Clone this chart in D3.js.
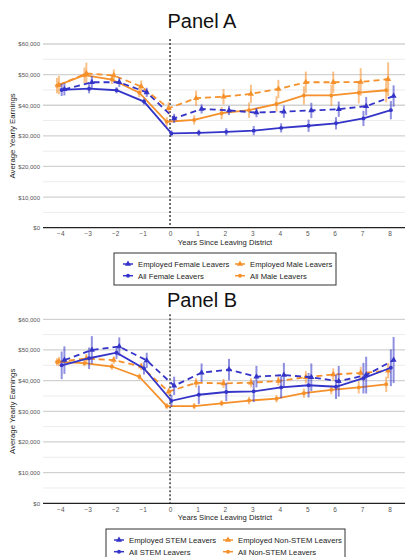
<!DOCTYPE html>
<html>
<head>
<meta charset="utf-8">
<style>
  body { margin: 0; background: #fff; }
  text { font-family: "Liberation Sans", Arial, sans-serif; }
</style>
</head>
<body>
<svg width="405" height="557"></svg>
<script src="https://cdn.jsdelivr.net/npm/d3@7"></script>
<script>
var years = [-4, -3, -2, -1, 0, 1, 2, 3, 4, 5, 6, 7, 8];
var yTicks = [0, 10000, 20000, 30000, 40000, 50000, 60000];

// Panel A values (thousands of dollars) and error bar half widths
var empFemaleA = [45.2, 47.5, 47.5, 44.2, 35.7, 38.8, 38.3, 37.6, 37.9, 38.3, 38.7, 39.7, 43.0];
var empFemaleAErr = [2, 2, 1.5, 1.5, 1.5, 1.5, 1.5, 1.5, 2, 2.5, 2.5, 3, 3.5];
var allFemaleA = [45.0, 45.4, 44.9, 41.2, 30.8, 31.0, 31.3, 31.7, 32.6, 33.3, 34.1, 35.7, 38.4];
var allFemaleAErr = [2, 1.5, 1, 1, 1, 1, 1.2, 1.5, 1.5, 2, 2, 2.5, 3];
var empMaleA = [46.6, 50.4, 49.7, 46.1, 39.0, 42.3, 42.8, 43.7, 45.3, 47.5, 47.5, 47.6, 48.5];
var empMaleAErr = [3, 3.5, 2, 2, 2, 2.5, 2.5, 3, 3, 3.5, 3.5, 4.5, 5.5];
var allMaleA = [46.4, 49.8, 48.4, 44.1, 34.6, 35.2, 37.4, 38.4, 40.4, 43.2, 43.2, 44.1, 44.9];
var allMaleAErr = [2.5, 2.5, 1.5, 1.5, 1.5, 1.5, 2, 2.5, 2.5, 3, 3.5, 3.5, 4];

// Panel B
var empStemB = [46.7, 50.0, 51.1, 46.6, 38.3, 42.6, 43.6, 41.3, 41.8, 41.1, 39.8, 41.8, 46.7];
var empStemBErr = [4.5, 4.5, 3, 2.5, 3, 3, 3.5, 3.5, 4, 4.5, 5, 6, 7.5];
var allStemB = [45.0, 47.3, 49.1, 44.0, 33.4, 35.4, 36.3, 36.5, 37.8, 38.5, 38.0, 40.8, 44.2];
var allStemBErr = [4.5, 3.5, 2, 2, 2, 3, 3, 3.5, 3.5, 4, 4, 5, 6];
var empNonB = [46.2, 47.2, 46.7, 44.6, 36.4, 39.3, 39.1, 39.3, 39.9, 41.1, 42.0, 42.5, 43.2];
var empNonBErr = [1.5, 1.5, 1.2, 1.2, 1.2, 1.5, 1.5, 1.5, 1.5, 2, 2, 2, 2.5];
var allNonB = [46.1, 45.7, 44.6, 41.3, 31.7, 31.7, 32.6, 33.5, 34.1, 35.9, 37.0, 37.8, 38.8];
var allNonBErr = [1.2, 1, 1, 1, 1, 1, 1, 1.2, 1.2, 1.5, 1.5, 2, 2.5];

var blue = "#3434c8";
var orange = "#f5902a";

var svg = d3.select("svg");

function drawPanel(top, bottom, title, titleY, series, legend) {
  var x = d3.scaleLinear().domain([-4, 8]).range([60.3, 389.5]);
  var y = d3.scaleLinear().domain([0, 60000]).range([bottom, top]);
  var g = svg.append("g");

  g.append("text").attr("x", 202).attr("y", titleY).attr("text-anchor", "middle")
    .attr("font-size", 20).attr("fill", "#111").text(title);

  // minor and major grid
  g.selectAll(".minor").data(d3.range(5000, 60000, 10000)).enter().append("line")
    .attr("x1", 43).attr("x2", 405).attr("y1", d => y(d)).attr("y2", d => y(d))
    .attr("stroke", "#ececec").attr("stroke-width", 1);
  g.selectAll(".major").data(yTicks.slice(1)).enter().append("line")
    .attr("x1", 43).attr("x2", 405).attr("y1", d => y(d)).attr("y2", d => y(d))
    .attr("stroke", "#d2d2d2").attr("stroke-width", 1.3);

  var yAxis = g.append("g").attr("transform", "translate(43,0)")
    .call(d3.axisLeft(y).tickValues(yTicks).tickSize(0).tickPadding(3).tickFormat(d3.format("$,")));
  yAxis.select(".domain").remove();
  yAxis.selectAll("text").attr("font-size", 6).attr("fill", "#555");

  var xAxis = g.append("g").attr("transform", "translate(0," + bottom + ")")
    .call(d3.axisBottom(x).tickValues(years).tickSize(0).tickPadding(4));
  xAxis.select(".domain").remove();
  xAxis.selectAll("text").attr("font-size", 6.5).attr("fill", "#555");
  g.append("line").attr("x1", 43).attr("x2", 405).attr("y1", bottom).attr("y2", bottom)
    .attr("stroke", "#222").attr("stroke-width", 1.3);

  g.append("text").attr("transform", "translate(15," + ((top + bottom) / 2) + ") rotate(-90)")
    .attr("text-anchor", "middle").attr("font-size", 7.8).attr("fill", "#222")
    .text("Average Yearly Earnings");
  g.append("text").attr("x", 225).attr("y", bottom + 17).attr("text-anchor", "middle")
    .attr("font-size", 7.6).attr("fill", "#222").text("Years Since Leaving District");

  g.append("line").attr("x1", x(0)).attr("x2", x(0)).attr("y1", top - 5).attr("y2", bottom)
    .attr("stroke", "#222").attr("stroke-width", 1.3).attr("stroke-dasharray", "2,2");

  series.forEach(function (s) {
    var pts = years.map((yr, i) => ({ yr: yr, v: s.values[i] * 1000, e: s.err[i] * 1000 }));
    var px = d => x(d.yr + s.dx);
    g.selectAll(null).data(pts).enter().append("line")
      .attr("x1", px).attr("x2", px)
      .attr("y1", d => y(d.v - d.e)).attr("y2", d => y(d.v + d.e))
      .attr("stroke", s.color).attr("stroke-width", 2).attr("stroke-opacity", 0.55);
    g.append("path").datum(pts)
      .attr("d", d3.line().x(px).y(d => y(d.v)))
      .attr("fill", "none").attr("stroke", s.color).attr("stroke-width", 1.8)
      .attr("stroke-dasharray", s.dashed ? "6,4" : null);
    var sym = d3.symbol().type(s.dashed ? d3.symbolTriangle : d3.symbolCircle).size(s.dashed ? 16 : 12);
    g.selectAll(null).data(pts).enter().append("path")
      .attr("transform", d => "translate(" + px(d) + "," + y(d.v) + ")")
      .attr("d", sym).attr("fill", s.color);
  });

  // legend
  var lg = g.append("g");
  lg.append("rect").attr("x", legend.x).attr("y", legend.y).attr("width", legend.w).attr("height", legend.h)
    .attr("fill", "#fff").attr("stroke", "#333").attr("stroke-width", 1);
  legend.items.forEach(function (it, i) {
    var col = i % 2, row = Math.floor(i / 2);
    var lx = legend.x + legend.pad + col * legend.colW;
    var ly = legend.y + 11 + row * 11.7;
    var s = it.s;
    lg.append("line").attr("x1", lx).attr("x2", lx + 10).attr("y1", ly).attr("y2", ly)
      .attr("stroke", s.color).attr("stroke-width", 1.5);
    lg.append("path").attr("transform", "translate(" + (lx + 5) + "," + ly + ")")
      .attr("d", d3.symbol().type(s.dashed ? d3.symbolTriangle : d3.symbolCircle).size(s.dashed ? 16 : 12))
      .attr("fill", s.color);
    lg.append("text").attr("x", lx + 15).attr("y", ly + 2.8).attr("font-size", 7.7).attr("fill", "#222")
      .text(it.label);
  });
}

var sEmpF = { values: empFemaleA, err: empFemaleAErr, color: blue, dashed: true, dx: 0.15 };
var sAllF = { values: allFemaleA, err: allFemaleAErr, color: blue, dashed: false, dx: 0.05 };
var sEmpM = { values: empMaleA, err: empMaleAErr, color: orange, dashed: true, dx: -0.05 };
var sAllM = { values: allMaleA, err: allMaleAErr, color: orange, dashed: false, dx: -0.12 };

drawPanel(44, 227.7, "Panel A", 28, [sEmpM, sAllM, sEmpF, sAllF], {
  x: 114, y: 253, w: 222, h: 32, colW: 112, pad: 9,
  items: [
    { s: sEmpF, label: "Employed Female Leavers" },
    { s: sEmpM, label: "Employed Male Leavers" },
    { s: sAllF, label: "All Female Leavers" },
    { s: sAllM, label: "All Male Leavers" }
  ]
});

var sEmpS = { values: empStemB, err: empStemBErr, color: blue, dashed: true, dx: 0.15 };
var sAllS = { values: allStemB, err: allStemBErr, color: blue, dashed: false, dx: 0.05 };
var sEmpN = { values: empNonB, err: empNonBErr, color: orange, dashed: true, dx: -0.05 };
var sAllN = { values: allNonB, err: allNonBErr, color: orange, dashed: false, dx: -0.12 };

drawPanel(319.3, 503.3, "Panel B", 307, [sEmpN, sAllN, sEmpS, sAllS], {
  x: 106, y: 529, w: 239, h: 34, colW: 109, pad: 8,
  items: [
    { s: sEmpS, label: "Employed STEM Leavers" },
    { s: sEmpN, label: "Employed Non-STEM Leavers" },
    { s: sAllS, label: "All STEM Leavers" },
    { s: sAllN, label: "All Non-STEM Leavers" }
  ]
});
</script>
</body>
</html>
